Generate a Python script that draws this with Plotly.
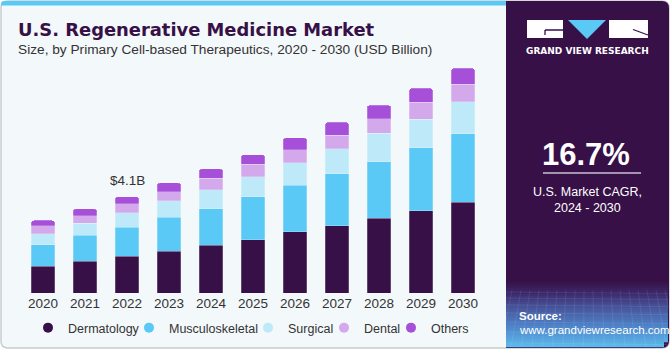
import plotly.graph_objects as go

# ---------------- data ----------------
years = ["2020", "2021", "2022", "2023", "2024", "2025", "2026", "2027", "2028", "2029", "2030"]
dermatology = [1.13, 1.35, 1.56, 1.78, 2.04, 2.26, 2.60, 2.87, 3.19, 3.50, 3.87]
musculoskeletal = [0.92, 1.11, 1.25, 1.45, 1.56, 1.84, 1.99, 2.21, 2.40, 2.68, 2.91]
surgical = [0.48, 0.52, 0.60, 0.71, 0.81, 0.85, 0.97, 1.06, 1.21, 1.23, 1.36]
dental = [0.33, 0.31, 0.40, 0.38, 0.48, 0.54, 0.54, 0.58, 0.63, 0.71, 0.75]
others = [0.23, 0.29, 0.30, 0.37, 0.40, 0.40, 0.51, 0.55, 0.57, 0.60, 0.68]
series_names = ["Dermatology", "Musculoskeletal", "Surgical", "Dental", "Others"]
series_values = [dermatology, musculoskeletal, surgical, dental, others]
series_colors = ["#371047", "#5BC9F5", "#BEE9F9", "#D4A9EC", "#A64FD8"]
label_year = "2022"
label_text = "&#36;4.1B"

# ---------------- geometry helpers ----------------
W, H = 671, 350
L, R, T, B = 22, 71, 59, 57
PW, PH = W - L - R, H - T - B
STEP = 42  # px per category
legend_dot_x = [50, 151, 270, 346, 413]  # legend entry positions (px)


def px(x):
    return (x - L) / PW


def py(y):
    return (H - B - y) / PH


def rrect(x0, y0, x1, y1, r, tl=True, tr=True, br=True, bl=True):
    X0, X1 = px(x0), px(x1)
    Y0, Y1 = py(y0), py(y1)
    rx, ry = r / PW, r / PH
    p = []
    p.append(f"M{X0 + (rx if tl else 0)},{Y0}")
    if tr:
        p.append(f"L{X1 - rx},{Y0} Q{X1},{Y0} {X1},{Y0 - ry}")
    else:
        p.append(f"L{X1},{Y0}")
    if br:
        p.append(f"L{X1},{Y1 + ry} Q{X1},{Y1} {X1 - rx},{Y1}")
    else:
        p.append(f"L{X1},{Y1}")
    if bl:
        p.append(f"L{X0 + rx},{Y1} Q{X0},{Y1} {X0},{Y1 + ry}")
    else:
        p.append(f"L{X0},{Y1}")
    if tl:
        p.append(f"L{X0},{Y0 - ry} Q{X0},{Y0} {X0 + rx},{Y0}")
    else:
        p.append(f"L{X0},{Y0}")
    p.append("Z")
    return " ".join(p)


fig = go.Figure()

for name, vals, col in zip(series_names, series_values, series_colors):
    fig.add_trace(go.Bar(
        x=years, y=vals, name=name, showlegend=False,
        marker=dict(color=col, line=dict(color="rgba(255,255,255,0.28)", width=0.8)),
    ))

legend_layouts = {}
for i, (name, col) in enumerate(zip(series_names, series_colors)):
    lg = "legend" if i == 0 else f"legend{i + 1}"
    fig.add_trace(go.Scatter(
        x=[None], y=[None], mode="markers", name=name, legend=lg,
        marker=dict(color=col, size=10, symbol="circle"),
    ))
    legend_layouts[lg] = dict(orientation="h", x=px(legend_dot_x[i] - 22), xanchor="left",
                              y=py(328), yanchor="middle",
                              font=dict(size=12.5, color="#333333"), itemwidth=30,
                              bgcolor="rgba(0,0,0,0)")

shapes = []
# card
shapes.append(dict(type="path", path=rrect(1, 1, 669, 348, 7), xref="paper", yref="paper",
                   fillcolor="#F3F8FB", line=dict(color="#C9CBCD", width=1.5), layer="below"))
# top blue band
shapes.append(dict(type="path", path=rrect(1, 1, 506, 5.5, 3, br=False, bl=False, tr=False),
                   xref="paper", yref="paper", fillcolor="#5BC9F5", line=dict(width=0), layer="below"))
# right panel
shapes.append(dict(type="path", path=rrect(506, 1, 669, 348, 7, tl=False, bl=False),
                   xref="paper", yref="paper", fillcolor="#371047", line=dict(width=0), layer="below"))


# gradient in bottom of right panel
def lerp(c1, c2, t):
    return tuple(round(a + (b - a) * t) for a, b in zip(c1, c2))


stops = [(280, (55, 16, 71)), (292, (60, 40, 105)), (305, (70, 80, 150)),
         (325, (78, 130, 200)), (347, (92, 190, 238))]
y = 280
while y < 347:
    for (ya, ca), (yb, cb) in zip(stops[:-1], stops[1:]):
        if ya <= y < yb:
            c = lerp(ca, cb, (y - ya) / (yb - ya))
            break
    y1 = min(y + 2, 347)
    shapes.append(dict(type="rect", xref="paper", yref="paper", x0=px(506), x1=px(668 if y1 < 343 else 664),
                       y0=py(y), y1=py(y1 + 0.3), fillcolor=f"rgb{c}", line=dict(width=0), layer="below"))
    y = y1
# faint grid lines in gradient
for gx in range(512, 668, 9):
    shapes.append(dict(type="line", xref="paper", yref="paper", x0=px(gx), x1=px(gx + (gx - 587) * 0.15),
                       y0=py(290), y1=py(346), line=dict(color="rgba(255,255,255,0.12)", width=0.7), layer="below"))
for gy in [292, 298, 305, 313, 322, 332, 343]:
    shapes.append(dict(type="line", xref="paper", yref="paper", x0=px(506), x1=px(668),
                       y0=py(gy), y1=py(gy + 1.5), line=dict(color="rgba(255,255,255,0.12)", width=0.7), layer="below"))

# logo
shapes.append(dict(type="rect", xref="paper", yref="paper", x0=px(527), x1=px(563), y0=py(20), y1=py(38),
                   fillcolor="white", line=dict(width=0)))
shapes.append(dict(type="path", xref="paper", yref="paper",
                   path=f"M{px(545)},{py(30)} L{px(563)},{py(30)} M{px(545)},{py(30)} L{px(545)},{py(35)}",
                   line=dict(color="#371047", width=1.3)))
shapes.append(dict(type="path", xref="paper", yref="paper",
                   path=f"M{px(568)},{py(20)} L{px(606)},{py(20)} L{px(587)},{py(39)} Z",
                   fillcolor="#5BC9F5", line=dict(width=0)))
shapes.append(dict(type="rect", xref="paper", yref="paper", x0=px(609), x1=px(648), y0=py(20), y1=py(38),
                   fillcolor="white", line=dict(width=0)))
shapes.append(dict(type="path", xref="paper", yref="paper",
                   path=f"M{px(633)},{py(29.5)} L{px(648)},{py(35)}",
                   line=dict(color="#371047", width=1.3)))
# CAGR separator line
shapes.append(dict(type="line", xref="paper", yref="paper", x0=px(543), x1=px(641), y0=py(173), y1=py(173),
                   line=dict(color="#C9C0D3", width=1.5)))

annotations = []


def txt(x, y, s, size, color, bold=False, anchor="left", family="Liberation Sans, Arial, sans-serif"):
    annotations.append(dict(x=px(x), y=py(y), xref="paper", yref="paper", text=s, showarrow=False,
                            xanchor=anchor, yanchor="middle",
                            font=dict(size=size, color=color, family=family,
                                      weight="bold" if bold else "normal")))


txt(16, 29, "U.S. Regenerative Medicine Market", 17.9, "#371047", bold=True, family="DejaVu Sans, sans-serif")
txt(16, 50, "Size, by Primary Cell-based Therapeutics, 2020 - 2030 (USD Billion)", 13.7, "#333333")
txt(587.5, 51, "GRAND VIEW RESEARCH", 9, "white", bold=True, anchor="center", family="DejaVu Sans, sans-serif")
txt(586, 154, "16.7%", 31, "white", bold=True, anchor="center")
txt(587, 192, "U.S. Market CAGR,", 12.5, "white", anchor="center")
txt(587, 208, "2024 - 2030", 12.5, "white", anchor="center")
txt(517, 316, "Source:", 11.5, "white", bold=True)
txt(517, 330, "www.grandviewresearch.com", 11.5, "white")

# value label above the 2022 bar (positioned from the data; category index on the x axis)
idx = years.index(label_year)
total = sum(v[idx] for v in series_values)
annotations.append(dict(x=idx, y=total, xref="x", yref="y", text=label_text, showarrow=False,
                        yanchor="bottom", yshift=7,
                        font=dict(size=13.5, color="#333333", family="Liberation Sans, Arial, sans-serif")))

fig.update_layout(
    width=W, height=H,
    margin=dict(l=L, r=R, t=T, b=B, pad=0, autoexpand=False),
    paper_bgcolor="white",
    plot_bgcolor="rgba(0,0,0,0)",
    barmode="stack",
    bargap=0.43,
    barcornerradius=3,
    shapes=shapes,
    annotations=annotations,
    font=dict(family="Liberation Sans, Arial, sans-serif", color="#333333"),
    xaxis=dict(type="category", showgrid=False, showline=False, zeroline=False, ticks="",
               tickfont=dict(size=13.5, color="#333333"), range=[-0.5, -0.5 + PW / STEP]),
    yaxis=dict(visible=False, range=[0, 9.97], showgrid=False, zeroline=False),
    hovermode=False,
    **legend_layouts,
)

fig.write_html("out.html")
